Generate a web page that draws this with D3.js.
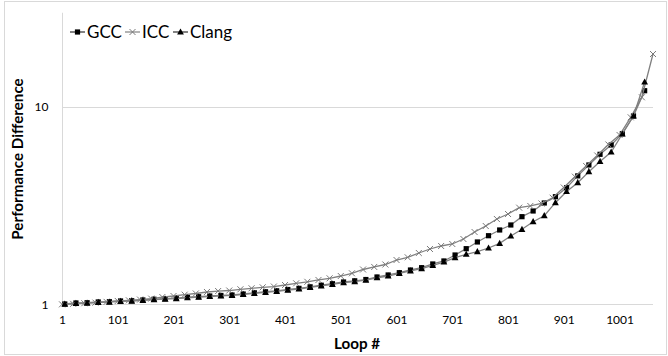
<!DOCTYPE html>
<html>
<head>
<meta charset="utf-8">
<script src="https://cdn.jsdelivr.net/npm/d3@7"></script>
<style>
  html, body { margin: 0; padding: 0; background: #fff; }
  svg { display: block; font-family: Lato, "Open Sans", sans-serif; }
</style>
</head>
<body>
<svg id="chart" width="668" height="356"></svg>
<script>
// ---------- data ----------
const seriesNames = ["GCC", "ICC", "Clang"];
const xTickLabels = [1, 101, 201, 301, 401, 501, 601, 701, 801, 901, 1001];
const yTickLabels = [1, 10];

const loopsICC = [1,21,41,61,81,101,121,141,161,181,201,221,241,261,281,301,321,341,361,381,
  401,421,441,461,481,501,521,541,561,581,601,621,641,661,681,701,721,741,761,781,
  801,821,841,861,881,901,921,941,961,981,1001,1021,1041,1061];
const loopsGC = [6,26,46,66,86,106,126,146,166,186,206,226,246,266,286,306,326,346,366,386,
  406,426,446,466,486,506,526,546,566,586,606,626,646,666,686,706,726,746,766,786,
  806,826,846,866,886,906,926,946,966,986,1006,1026,1046];

const gccValues = [1.006,1.018,1.021,1.030,1.033,1.042,1.045,1.054,1.063,1.070,
  1.076,1.088,1.095,1.104,1.111,1.117,1.130,1.146,1.160,1.173,
  1.191,1.207,1.229,1.252,1.274,1.300,1.318,1.338,1.378,1.411,
  1.449,1.495,1.536,1.604,1.661,1.781,1.917,2.073,2.230,2.384,
  2.527,2.784,2.975,3.266,3.514,3.903,4.479,5.087,5.761,6.422,
  7.326,9.003,12.09];
const iccValues = [1.002,1.008,1.015,1.022,1.031,1.042,1.050,1.059,1.071,1.091,
  1.104,1.121,1.137,1.157,1.170,1.177,1.194,1.208,1.222,1.233,
  1.255,1.280,1.303,1.331,1.357,1.394,1.439,1.504,1.549,1.594,
  1.680,1.734,1.823,1.910,1.978,2.025,2.146,2.328,2.497,2.710,
  2.872,3.092,3.154,3.247,3.473,3.912,4.437,5.028,5.681,6.460,
  7.216,8.867,11.20,18.55];
const clangValues = [1.004,1.013,1.017,1.025,1.029,1.037,1.041,1.049,1.058,1.065,
  1.071,1.082,1.090,1.098,1.105,1.111,1.124,1.139,1.153,1.166,
  1.183,1.198,1.220,1.243,1.264,1.289,1.307,1.327,1.366,1.394,
  1.439,1.481,1.521,1.576,1.641,1.726,1.796,1.851,1.932,2.041,
  2.223,2.403,2.626,2.816,3.277,3.734,4.138,4.704,5.298,5.918,
  7.300,9.003,13.38];

// ---------- layout ----------
const svg = d3.select("#chart");
const plotLeft = 62, plotRight = 653, plotBottom = 304.5, decade = 197.5;
const yMax = 30;
const x = d3.scaleLinear().domain([1, 1061]).range([plotLeft, plotRight]);
const y = d3.scaleLog().domain([1, yMax]).range([plotBottom, plotBottom - decade * Math.log10(yMax)]);
const plotTop = y(yMax);

// chart border
svg.append("rect").attr("x", 4.5).attr("y", 1.5).attr("width", 662).attr("height", 353)
  .attr("fill", "#fff").attr("stroke", "#d9d9d9").attr("stroke-width", 1);

// gridline at 10
svg.append("g")
  .selectAll("line").data(yTickLabels.filter(d => d !== 1)).join("line")
  .attr("x1", plotLeft).attr("x2", plotRight)
  .attr("y1", d => Math.round(y(d)) + 0.5).attr("y2", d => Math.round(y(d)) + 0.5)
  .attr("stroke", "#d9d9d9").attr("stroke-width", 1);

// y axis
const yAxis = d3.axisLeft(y).tickValues(yTickLabels).tickFormat(d3.format("d")).tickSize(0).tickPadding(14);
const gy = svg.append("g").attr("transform", `translate(${plotLeft + 0.5},0)`).call(yAxis);
gy.select(".domain").attr("stroke", "#d9d9d9").attr("d", `M0,${plotTop}V${plotBottom}`);
gy.selectAll("text").attr("font-size", 12).attr("fill", "#000").attr("font-family", "Lato");

// x axis
const xAxis = d3.axisBottom(x).tickValues(xTickLabels).tickFormat(d3.format("d")).tickSize(0).tickPadding(11);
const gx = svg.append("g").attr("transform", `translate(0,${plotBottom})`).call(xAxis);
gx.select(".domain").attr("stroke", "#d9d9d9").attr("d", `M${plotLeft},0H${plotRight}`);
gx.selectAll("text").attr("font-size", 12).attr("fill", "#000").attr("font-family", "Lato");

// axis titles
svg.append("text").attr("x", 357).attr("y", 349).attr("text-anchor", "middle")
  .attr("font-size", 15.2).attr("font-weight", "bold").attr("fill", "#000").text("Loop #");
svg.append("text").attr("transform", "translate(23,159) rotate(-90)").attr("text-anchor", "middle")
  .attr("font-size", 15.2).attr("font-weight", "bold").attr("fill", "#000").text("Performance Difference");

// series
const lineColor = "#808080";
const series = [
  { name: "GCC", loops: loopsGC, values: gccValues, marker: "square" },
  { name: "ICC", loops: loopsICC, values: iccValues, marker: "cross" },
  { name: "Clang", loops: loopsGC, values: clangValues, marker: "triangle" }
];

function drawMarker(g, type, cx, cy) {
  if (type === "square") {
    g.append("rect").attr("x", cx - 2.6).attr("y", cy - 2.6).attr("width", 5.2).attr("height", 5.2)
      .attr("fill", "#000");
  } else if (type === "triangle") {
    g.append("path").attr("d", `M${cx},${cy - 3.6}L${cx + 3.4},${cy + 2.6}L${cx - 3.4},${cy + 2.6}Z`)
      .attr("fill", "#000");
  } else {
    g.append("path").attr("d", `M${cx - 3},${cy - 3}L${cx + 3},${cy + 3}M${cx - 3},${cy + 3}L${cx + 3},${cy - 3}`)
      .attr("stroke", "#7a7a7a").attr("stroke-width", 1).attr("fill", "none");
  }
}

const line = d3.line().x(d => x(d[0])).y(d => y(d[1]));
series.forEach(s => {
  const pts = s.loops.map((l, i) => [l, s.values[i]]);
  const g = svg.append("g");
  g.append("path").datum(pts).attr("d", line).attr("fill", "none")
    .attr("stroke", lineColor).attr("stroke-width", 1.3);
  pts.forEach(p => drawMarker(g, s.marker, x(p[0]), y(p[1])));
});

// legend
const legendItems = [
  { name: "GCC", marker: "square", x0: 70 },
  { name: "ICC", marker: "cross", x0: 125 },
  { name: "Clang", marker: "triangle", x0: 173 }
];
const ly = 32;
legendItems.forEach(it => {
  const g = svg.append("g");
  g.append("line").attr("x1", it.x0).attr("x2", it.x0 + 15).attr("y1", ly).attr("y2", ly)
    .attr("stroke", it.marker === "cross" ? "#8c8c8c" : "#404040").attr("stroke-width", 1.3);
  drawMarker(g, it.marker, it.x0 + 7.5, ly);
  g.append("text").attr("x", it.x0 + 17).attr("y", ly + 6).attr("font-size", 17)
    .attr("fill", "#000").text(it.name);
});
</script>
</body>
</html>
